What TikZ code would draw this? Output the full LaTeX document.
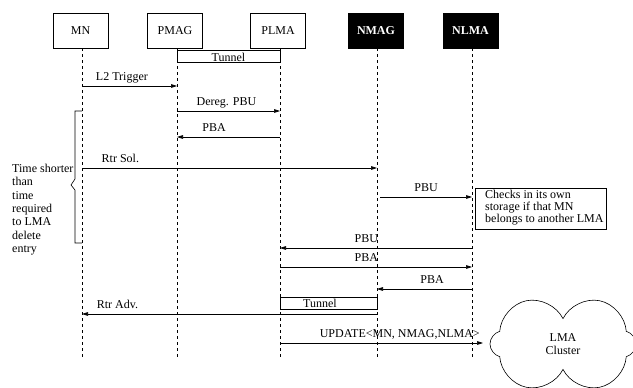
\documentclass[tikz,border=0pt]{standalone}
\usepackage{fontspec}
\setmainfont{Liberation Serif}
\usetikzlibrary{arrows.meta,positioning,shapes.symbols}
\tikzset{
  ent/.style={draw,minimum width=55pt,minimum height=35pt,inner sep=0pt,line width=0.6pt,font=\fontsize{12}{12}\selectfont},
  ent-new/.style={ent,fill=black,text=white,font=\fontsize{12}{12}\selectfont\bfseries},
  life/.style={line width=0.6pt,dash pattern=on 3pt off 3pt},
  msg/.style={-{Triangle[length=6pt,width=3.6pt]},line width=0.6pt},
  lbl/.style={above=1.5pt,inner sep=1pt,text depth=2.5pt,font=\fontsize{12}{12}\selectfont},
  txt/.style={inner sep=0pt,align=left,font=\fontsize{12}{12}\selectfont},
  tunnel/.style={draw,line width=0.6pt},
}

\begin{document}
\begin{tikzpicture}[x=1pt,y=-1pt]
  \clip (0,0) rectangle (633,388);

  % entities
  \node[ent]     (mn)   at (80.5,30.5)  {MN};
  \node[ent]     (pmag) at (175,30.5)   {PMAG};
  \node[ent]     (plma) at (278,30.5)   {PLMA};
  \node[ent-new] (nmag) at (376,30.5)   {NMAG};
  \node[ent-new] (nlma) at (470.5,30.5) {NLMA};

  % lifelines
  \foreach \e/\x in {mn/82,pmag/177,plma/280,nmag/377,nlma/472} {
    \coordinate (\e-end) at (\x,357);
    \draw[life] (\x,48) -- (\e-end);
  }

  % tunnel PMAG-PLMA
  \draw[tunnel] (pmag-end |- 0,50) rectangle (plma-end |- 0,62);
  \node[txt,anchor=base] (tun1) at (228.5,61) {Tunnel};

  % handover signalling
  \draw[msg] (mn-end |- 0,86) -- node[lbl,pos=.42] {L2 Trigger} (pmag-end |- 0,86);
  \draw[msg] (pmag-end |- 0,111) -- node[lbl,pos=.48] {Dereg. PBU} (plma-end |- 0,111);
  \draw[msg] (plma-end |- 0,137) -- node[lbl,pos=.64] {PBA} (pmag-end |- 0,137);
  \draw[msg] (mn-end |- 0,168) -- node[lbl,pos=.13] {Rtr Sol.} (nmag-end |- 0,168);
  \draw[msg] ([xshift=3pt]nmag-end |- 0,197) -- node[lbl,pos=.5] {PBU} (nlma-end |- 0,197);

  % lookup at NLMA
  \draw[tunnel] (475,188) rectangle (606,229);
  \node[txt,anchor=north west] (chk) at (485,190) {Checks in its own\\storage if that MN\\belongs to another LMA};

  \draw[msg] (nlma-end |- 0,248) -- node[lbl,pos=.55] {PBU} (plma-end |- 0,248);
  \draw[msg] (plma-end |- 0,267) -- node[lbl,pos=.45] {PBA} (nlma-end |- 0,267);
  \draw[msg] (nlma-end |- 0,289) -- node[lbl,pos=.42] {PBA} (nmag-end |- 0,289);

  % tunnel PLMA-NMAG
  \draw[tunnel] (plma-end |- 0,297) rectangle (nmag-end |- 0,309);
  \node[txt,anchor=base] (tun2) at (320,307) {Tunnel};

  \draw[msg] (nmag-end |- 0,314) -- node[lbl,pos=.88] {Rtr Adv.} (mn-end |- 0,314);

  % cluster update (cloud turned so a notch sits on top)
  \node[cloud,draw,cloud puffs=6,rotate=90,aspect=0.7,minimum width=100pt,minimum height=146pt,
        line width=0.6pt] (lmac) at (563,344) {};
  \node[align=center,inner sep=0pt,font=\fontsize{12}{13}\selectfont] (lmac-txt) at (lmac.center) {LMA\\Cluster};
  \draw[msg] (plma-end |- 0,343) -- node[lbl,pos=.59] {UPDATE<MN, NMAG,NLMA>} (483,343);

  % timing brace
  \draw[line width=0.6pt] (82,111) -- (75,111) -- (75,179) -- (71,185) -- (75,190) -- (75,243) -- (82,243);
  \node[txt,anchor=north west,font=\fontsize{12}{13.3}\selectfont] (dur) at (12,164)
    {Time shorter\\than\\time\\required\\to LMA\\delete\\entry};
\end{tikzpicture}
\end{document}
